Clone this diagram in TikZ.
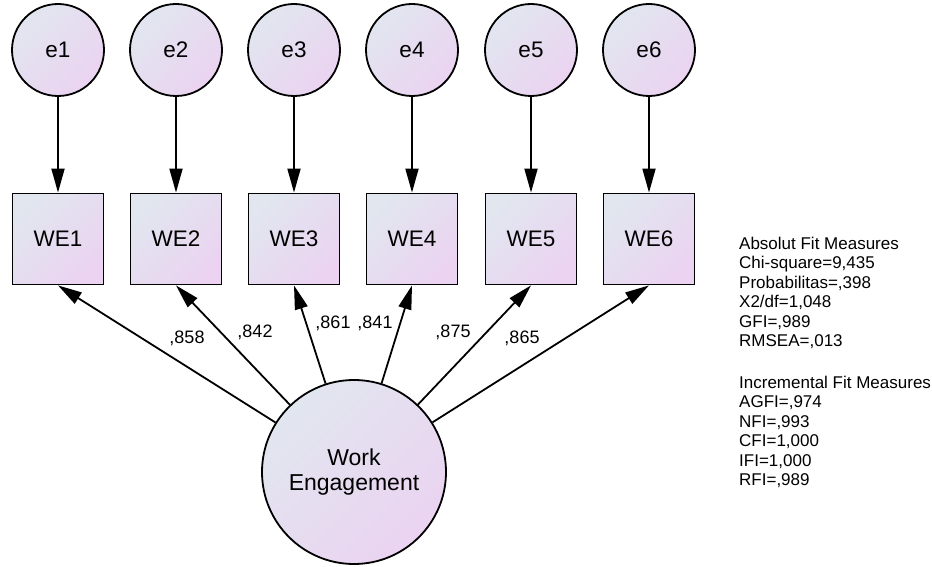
\documentclass[tikz,border=0pt]{standalone}
\usepackage{fontspec}
\setmainfont{Liberation Sans}
\usetikzlibrary{arrows.meta}

\definecolor{fillA}{HTML}{E1E6EF}
\definecolor{fillB}{HTML}{EBD3F1}

\tikzset{
  shadedfill/.style={top color=fillA, bottom color=fillB, shading angle=45},
  errvar/.style={circle, draw, line width=1.8pt, minimum size=92pt, inner sep=0pt,
    shadedfill, font=\fontsize{22.5}{26}\selectfont},
  indicator/.style={rectangle, draw, line width=1.8pt, minimum size=91pt, inner sep=0pt,
    shadedfill, font=\fontsize{22.5}{26}\selectfont},
  factor/.style={circle, draw, line width=1.8pt, minimum size=184pt, inner sep=0pt,
    shadedfill, align=center, font=\fontsize{23}{25}\selectfont},
  regpath/.style={line width=1.8pt, -{Triangle[length=24pt,width=13pt]}},
  loading/.style={font=\fontsize{18}{20}\selectfont, inner sep=0pt},
  fittext/.style={anchor=north west, align=left, inner sep=0pt,
    font=\fontsize{17}{19.4}\selectfont},
}

\begin{document}
\begin{tikzpicture}[x=1pt, y=1pt]
  \useasboundingbox (0,0) rectangle (932,566);

  % error terms and observed indicators
  \foreach \i/\x in {1/58, 2/176, 3/294, 4/412, 5/531, 6/649} {
    \node[errvar] (e\i) at (\x,516) {e\i};
    \node[indicator] (we\i) at (\x,327) {WE\i};
    \draw[regpath] (e\i) -- (we\i);
  }

  % latent factor
  \node[factor] (eng) at (354,94) {Work\\Engagement};

  % factor loadings
  \foreach \i in {1,...,6} {
    \draw[regpath] (eng) -- (we\i.south);
  }

  \node[loading] (l1) at (187,228) {,858};
  \node[loading] (l2) at (255,234) {,842};
  \node[loading] (l3) at (333,243) {,861};
  \node[loading] (l4) at (375,243) {,841};
  \node[loading] (l5) at (453,234) {,875};
  \node[loading] (l6) at (522,228) {,865};

  % fit indices
  \node[fittext] (absfit) at (739,329) {Absolut Fit Measures\\Chi-square=9,435\\Probabilitas=,398\\X2/df=1,048\\GFI=,989\\RMSEA=,013};
  \node[fittext] (incfit) at (739,190) {Incremental Fit Measures\\AGFI=,974\\NFI=,993\\CFI=1,000\\IFI=1,000\\RFI=,989};
\end{tikzpicture}
\end{document}
